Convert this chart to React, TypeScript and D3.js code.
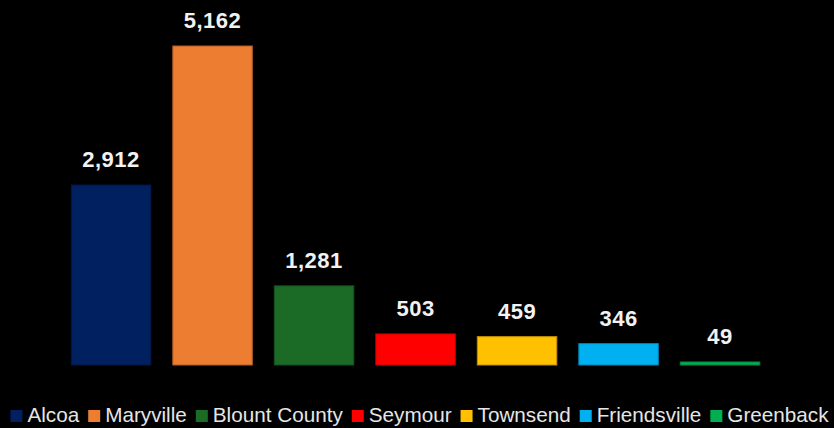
import React, { useEffect, useRef } from "react";
import * as d3 from "d3";

const categories = ["Alcoa", "Maryville", "Blount County", "Seymour", "Townsend", "Friendsville", "Greenback"];
const values = [2912, 5162, 1281, 503, 459, 346, 49];
const colors = ["#002060", "#ED7D31", "#1B6B26", "#FF0000", "#FFC000", "#00B0F0", "#00B050"];

const W = 834;
const H = 428;

export default function App() {
  const ref = useRef<SVGSVGElement | null>(null);

  useEffect(() => {
    document.body.style.margin = "0";
    document.body.style.background = "#000";
    const svg = d3.select(ref.current);
    svg.selectAll("*").remove();

    const x = d3
      .scaleBand<string>()
      .domain(categories)
      .range([60.3, 770.8])
      .paddingInner(0.217)
      .paddingOuter(0.1085);
    const y = d3.scaleLinear().domain([0, d3.max(values) as number]).range([365, 46]);

    const data = categories.map((c, i) => ({ c, v: values[i], col: colors[i] }));

    svg
      .append("g")
      .selectAll("rect")
      .data(data)
      .join("rect")
      .attr("x", (d) => x(d.c) as number)
      .attr("y", (d) => y(d.v))
      .attr("width", x.bandwidth())
      .attr("height", (d) => y(0) - y(d.v))
      .attr("fill", (d) => d.col)
      .attr("stroke", (d) => (d3.color(d.col) as d3.RGBColor).darker(0.8).formatHex())
      .attr("stroke-width", 1);

    svg
      .append("g")
      .selectAll("text")
      .data(data)
      .join("text")
      .attr("x", (d) => (x(d.c) as number) + x.bandwidth() / 2)
      .attr("y", (d) => y(d.v) - 18)
      .attr("text-anchor", "middle")
      .attr("fill", "#f2f2f2")
      .attr("font-family", "Liberation Sans, Arial, sans-serif")
      .attr("font-weight", "bold")
      .attr("font-size", 22)
      .attr("letter-spacing", 0.5)
      .text((d) => d3.format(",")(d.v));

    // legend
    const lg = svg.append("g");
    const items = lg
      .selectAll("g")
      .data(data)
      .join("g");
    items
      .append("rect")
      .attr("width", 12)
      .attr("height", 12)
      .attr("y", 410)
      .attr("fill", (d) => d.col);
    const texts = items
      .append("text")
      .attr("x", 17)
      .attr("y", 422)
      .attr("fill", "#e6e6e6")
      .attr("font-family", "Liberation Sans, Arial, sans-serif")
      .attr("font-size", 20.7)
      .text((d) => d.c);
    const widths: number[] = [];
    texts.each(function () {
      widths.push((this as SVGTextElement).getComputedTextLength());
    });
    const itemW = widths.map((w) => 17 + w);
    const gap = 9;
    const total = d3.sum(itemW) + gap * (itemW.length - 1);
    let cx = 419.5 - total / 2;
    const offs: number[] = [];
    itemW.forEach((w) => {
      offs.push(cx);
      cx += w + gap;
    });
    items.attr("transform", (_d, i) => `translate(${offs[i]},0)`);
  }, []);

  return (
    <svg
      ref={ref}
      width={W}
      height={H}
      style={{ position: "fixed", left: 0, top: 0, background: "#000", display: "block" }}
    />
  );
}
